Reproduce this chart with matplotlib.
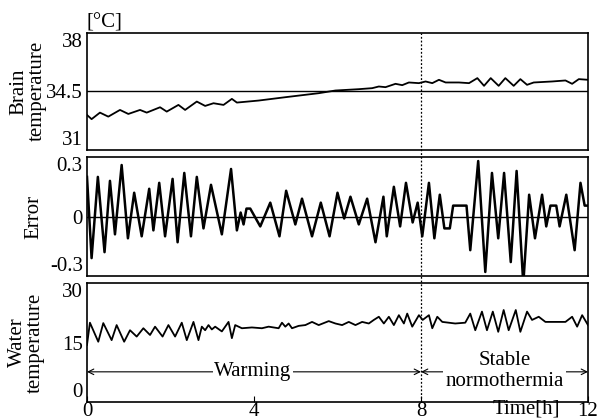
import matplotlib
matplotlib.use("Agg")
import matplotlib.pyplot as plt
from matplotlib.lines import Line2D
from matplotlib.transforms import blended_transform_factory

plt.rcParams['font.family'] = ['Liberation Serif', 'DejaVu Serif']

# Brain temperature [°C] (peaks/troughs)
t_brain = [0, 0.11, 0.31, 0.51, 0.79, 0.99, 1.27, 1.43, 1.75, 1.91,
           2.19, 2.35, 2.63, 2.83, 3.03, 3.27, 3.47, 3.59, 4.11, 4.75,
           5.55, 5.95, 6.51, 6.83, 6.99, 7.15, 7.39, 7.55, 7.71, 7.95,
           8.11, 8.27, 8.43, 8.59, 8.91, 9.15, 9.35, 9.51, 9.67, 9.86,
           10.02, 10.22, 10.38, 10.54, 10.70, 11.14, 11.46, 11.62, 11.78, 12.0]
v_brain = [33.09, 32.84, 33.23, 32.99, 33.39, 33.15, 33.39, 33.23, 33.55, 33.29,
           33.69, 33.39, 33.89, 33.63, 33.79, 33.69, 34.05, 33.83, 33.95, 34.15,
           34.39, 34.55, 34.63, 34.69, 34.79, 34.75, 34.95, 34.87, 35.03, 34.99,
           35.09, 34.99, 35.19, 35.03, 35.03, 34.99, 35.29, 34.83, 35.29, 34.83,
           35.29, 34.83, 35.23, 34.89, 35.03, 35.09, 35.15, 34.95, 35.23, 35.19]

# Error
t_err = [0.0, 0.11, 0.26, 0.42, 0.55, 0.67, 0.83, 0.98, 1.13, 1.31,
         1.49, 1.59, 1.73, 1.87, 2.05, 2.17, 2.33, 2.49, 2.63, 2.79,
         2.97, 3.23, 3.45, 3.59, 3.68, 3.75, 3.82, 3.91, 4.15, 4.39,
         4.61, 4.77, 4.99, 5.15, 5.39, 5.6, 5.81, 6.0, 6.16, 6.31,
         6.51, 6.71, 6.91, 7.1, 7.18, 7.35, 7.5, 7.64, 7.8, 7.92,
         8.03, 8.19, 8.32, 8.45, 8.56, 8.69, 8.77, 9.09, 9.18, 9.37,
         9.54, 9.7, 9.85, 9.99, 10.15, 10.29, 10.45, 10.59, 10.73, 10.9,
         11.0, 11.1, 11.24, 11.32, 11.48, 11.68, 11.82, 11.92, 12.0]
v_err = [0.2, -0.21, 0.2, -0.18, 0.18, -0.09, 0.26, -0.11, 0.12, -0.1,
         0.14, -0.07, 0.17, -0.1, 0.19, -0.13, 0.22, -0.1, 0.2, -0.06,
         0.16, -0.09, 0.24, -0.07, 0.02, -0.04, 0.04, 0.04, -0.05, 0.07,
         -0.1, 0.13, -0.04, 0.09, -0.1, 0.07, -0.1, 0.12, -0.01, 0.1,
         -0.04, 0.09, -0.13, 0.1, -0.1, 0.15, -0.05, 0.17, -0.03, 0.07,
         -0.1, 0.17, -0.11, 0.11, -0.06, -0.06, 0.055, 0.055, -0.17, 0.28,
         -0.28, 0.22, -0.11, 0.22, -0.23, 0.23, -0.34, 0.11, -0.11, 0.11,
         -0.05, 0.055, 0.055, -0.05, 0.11, -0.17, 0.17, 0.055, 0.055]

# Water temperature [°C]
t_water = [0.0, 0.07, 0.27, 0.39, 0.59, 0.71, 0.89, 1.03, 1.19, 1.35,
           1.51, 1.63, 1.81, 1.95, 2.11, 2.27, 2.39, 2.55, 2.67, 2.75,
           2.83, 2.91, 2.99, 3.07, 3.23, 3.39, 3.47, 3.55, 3.71, 3.95,
           4.19, 4.35, 4.59, 4.67, 4.75, 4.83, 4.91, 5.07, 5.23, 5.39,
           5.55, 5.79, 5.95, 6.11, 6.27, 6.43, 6.59, 6.75, 6.87, 6.99,
           7.11, 7.23, 7.35, 7.47, 7.59, 7.67, 7.79, 7.95, 8.04, 8.19,
           8.27, 8.39, 8.51, 8.82, 9.06, 9.18, 9.30, 9.46, 9.58, 9.72,
           9.85, 9.98, 10.10, 10.27, 10.38, 10.54, 10.66, 10.82, 10.98, 11.22,
           11.46, 11.62, 11.74, 11.86, 12.0]
v_water = [14.4, 20.0, 15.2, 19.9, 15.6, 19.4, 15.2, 18.1, 16.5, 18.6,
           16.9, 19.0, 16.5, 19.4, 16.5, 20.0, 15.6, 20.2, 15.6, 19.0,
           18.1, 19.4, 18.3, 19.0, 17.8, 20.2, 16.1, 19.4, 18.6, 18.8,
           18.6, 19.0, 18.6, 20.0, 19.0, 19.8, 18.6, 19.2, 19.4, 20.2,
           19.4, 20.4, 19.8, 19.4, 20.2, 19.4, 20.2, 19.8, 20.7, 21.5,
           19.8, 21.5, 19.4, 21.9, 19.8, 22.3, 19.0, 21.9, 20.7, 21.9,
           18.6, 21.5, 20.2, 19.8, 20.0, 22.3, 18.1, 22.8, 18.1, 22.8,
           17.7, 23.2, 18.1, 23.2, 17.7, 22.8, 20.7, 21.5, 20.2, 20.2,
           20.2, 21.5, 19.0, 21.9, 19.4]

fig = plt.figure(figsize=(6, 4.2), dpi=100)
left, width = 0.145, 0.835
ax1 = fig.add_axes([left, 0.643, width, 0.279])
ax2 = fig.add_axes([left, 0.343, width, 0.283])
ax3 = fig.add_axes([left, 0.043, width, 0.283])

fs = 15
for ax in (ax1, ax2, ax3):
    ax.set_xlim(0, 12)
    for sp in ax.spines.values():
        sp.set_linewidth(1.2)
    ax.tick_params(axis='y', length=0, pad=3, labelsize=fs)

# brain temperature
ax1.plot(t_brain, v_brain, color='black', lw=1.3)
ax1.axhline(34.5, color='black', lw=1.0)
ax1.set_ylim(31, 38)
ax1.set_yticks([31, 34.5, 38])
ax1.set_yticklabels(['31', '34.5', '38'])
ax1.set_xticks([])
ax1.set_ylabel('Brain\ntemperature', fontsize=fs, linespacing=0.95)
ax1.yaxis.set_label_coords(-0.080, 0.5)
ax1.text(0, 1.0, '[°C]', transform=ax1.transAxes, ha='left', va='bottom', fontsize=fs)

# error
ax2.plot(t_err, v_err, color='black', lw=1.8)
ax2.axhline(0, color='black', lw=1.0)
ax2.set_ylim(-0.3, 0.3)
ax2.set_yticks([-0.3, 0, 0.3])
ax2.set_yticklabels(['-0.3', '0', '0.3'])
ax2.set_xticks([])
ax2.set_ylabel('Error', fontsize=fs)
ax2.yaxis.set_label_coords(-0.088, 0.5)

# water temperature
ax3.plot(t_water, v_water, color='black', lw=1.3)
ax3.set_ylim(0, 30)
ax3.set_yticks([0, 15, 30])
ax3.set_yticklabels(['0', '15', '30'])
ax3.set_xticks([0, 4, 8, 12])
ax3.set_xticklabels(['0', '4', '8', '12'])
ax3.tick_params(axis='x', direction='in', length=4, pad=0, labelsize=fs)
ax3.set_ylabel('Water\ntemperature', fontsize=fs, linespacing=0.95)
ax3.yaxis.set_label_coords(-0.084, 0.5)

for ax in (ax1, ax2, ax3):
    labs = ax.get_yticklabels()
    labs[0].set_va('bottom')
    labs[-1].set_va('top')

ax3.annotate('Time[h]', xy=(10.53, 0), xycoords=('data', 'axes fraction'),
             xytext=(0, 1.5), textcoords='offset points', ha='center', va='top', fontsize=fs)

# phase arrows
ax3.annotate('', xy=(0, 7.6), xytext=(8, 7.6),
             arrowprops=dict(arrowstyle='<->', lw=0.8, color='black', shrinkA=0, shrinkB=0))
ax3.annotate('', xy=(8, 7.6), xytext=(12, 7.6),
             arrowprops=dict(arrowstyle='<->', lw=0.8, color='black', shrinkA=0, shrinkB=0))
ax3.text(3.97, 7.6, 'Warming', ha='center', va='center', fontsize=fs,
         bbox=dict(facecolor='white', edgecolor='none', pad=1))
ax3.text(10.0, 7.9, 'Stable\nnormothermia', ha='center', va='center', fontsize=fs,
         linespacing=1.15, bbox=dict(facecolor='white', edgecolor='none', pad=2))

# dotted line at 8 h through all panels
tr = blended_transform_factory(ax3.transData, fig.transFigure)
fig.add_artist(Line2D([8, 8], [0.043, 0.922], transform=tr, color='black',
                      lw=0.9, linestyle=(0, (1.5, 1.5)), zorder=5))

fig.savefig('out.png', dpi=100, facecolor='white')
